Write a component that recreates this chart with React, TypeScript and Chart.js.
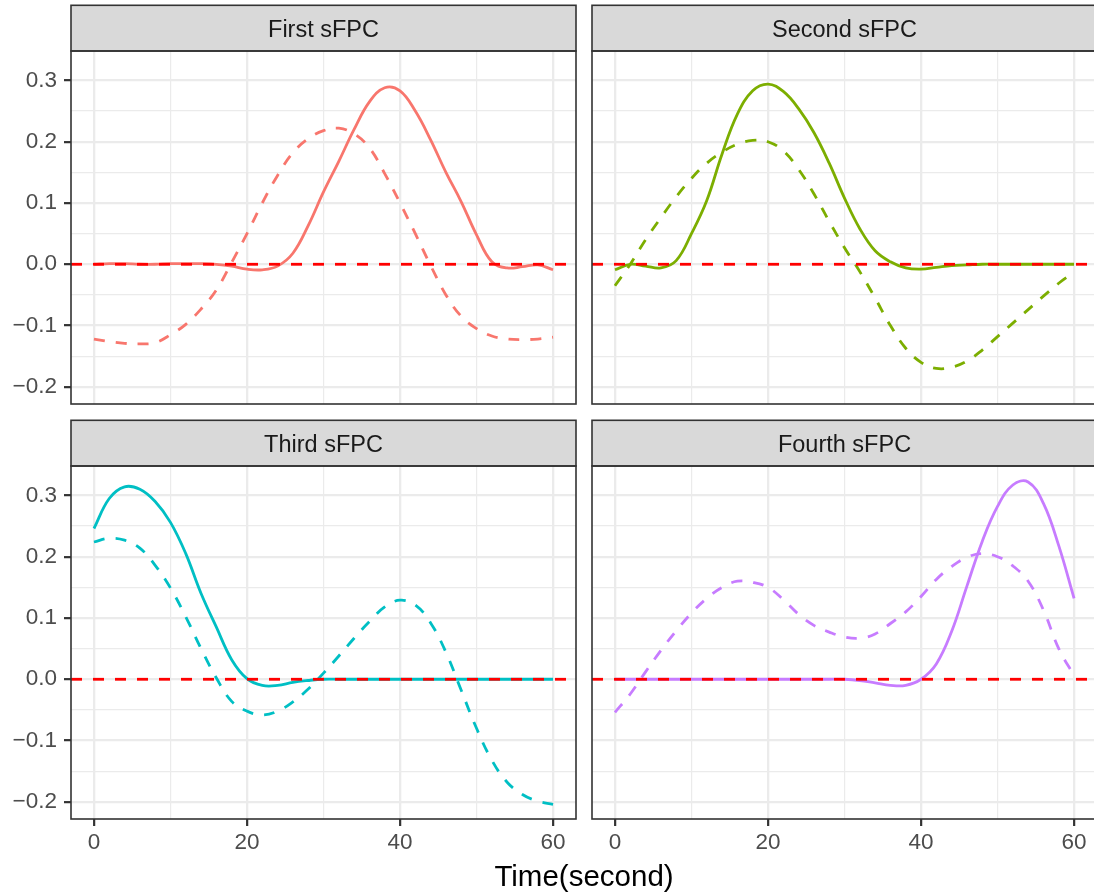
import React, { useEffect, useRef } from "react";
import { Chart, registerables } from "chart.js";

Chart.register(...registerables);

// ---------------- data ----------------
const TIME = [0, 2, 4, 6, 8, 10, 12, 14, 16, 18, 20, 22, 24, 26, 28, 30, 32, 34, 36, 38, 40, 42, 44, 46, 48, 50, 52, 54, 56, 58, 60];

const FIRST_SOLID = [0.0, 0.001, 0.001, 0.0, 0.0, 0.001, 0.001, 0.001, 0.0, -0.003, -0.008, -0.009, -0.003, 0.018, 0.063, 0.118, 0.168, 0.22, 0.265, 0.288, 0.283, 0.25, 0.203, 0.15, 0.102, 0.048, 0.004, -0.006, -0.004, -0.001, -0.009];
const FIRST_DASHED = [-0.122, -0.126, -0.129, -0.13, -0.128, -0.115, -0.098, -0.073, -0.042, 0.003, 0.05, 0.1, 0.145, 0.182, 0.205, 0.218, 0.222, 0.213, 0.19, 0.148, 0.1, 0.05, -0.002, -0.05, -0.085, -0.105, -0.117, -0.122, -0.123, -0.122, -0.119];

const SECOND_SOLID = [-0.009, 0.0, -0.003, -0.006, 0.006, 0.05, 0.104, 0.18, 0.245, 0.283, 0.294, 0.282, 0.254, 0.215, 0.165, 0.108, 0.058, 0.022, 0.004, -0.006, -0.008, -0.005, -0.002, -0.001, 0.0, 0.0, 0.0, 0.0, 0.0, 0.0, 0.0];
const SECOND_DASHED = [-0.035, 0.0, 0.04, 0.076, 0.11, 0.14, 0.165, 0.183, 0.196, 0.202, 0.2, 0.185, 0.155, 0.115, 0.07, 0.027, -0.012, -0.055, -0.1, -0.137, -0.16, -0.17, -0.168, -0.158, -0.14, -0.118, -0.096, -0.074, -0.052, -0.031, -0.013];

const THIRD_SOLID = [0.246, 0.295, 0.314, 0.31, 0.29, 0.256, 0.205, 0.14, 0.085, 0.032, 0.001, -0.01, -0.01, -0.005, -0.002, 0.0, 0.0, 0.0, 0.0, 0.0, 0.0, 0.0, 0.0, 0.0, 0.0, 0.0, 0.0, 0.0, 0.0, 0.0, 0.0];
const THIRD_DASHED = [0.224, 0.23, 0.227, 0.214, 0.186, 0.149, 0.102, 0.05, 0.002, -0.036, -0.052, -0.058, -0.052, -0.037, -0.016, 0.01, 0.038, 0.067, 0.094, 0.118, 0.129, 0.121, 0.092, 0.044, -0.018, -0.08, -0.132, -0.168, -0.188, -0.199, -0.204];

const FOURTH_SOLID = [0.0, 0.0, 0.0, 0.0, 0.0, 0.0, 0.0, 0.0, 0.0, 0.0, 0.0, 0.0, 0.0, 0.0, 0.0, 0.0, -0.002, -0.006, -0.01, -0.01, 0.0, 0.025, 0.078, 0.152, 0.225, 0.282, 0.317, 0.322, 0.287, 0.218, 0.132];
const FOURTH_DASHED = [-0.054, -0.024, 0.012, 0.047, 0.079, 0.108, 0.132, 0.15, 0.16, 0.158, 0.15, 0.13, 0.106, 0.088, 0.077, 0.069, 0.067, 0.074, 0.091, 0.11, 0.135, 0.163, 0.184, 0.199, 0.205, 0.2, 0.185, 0.16, 0.113, 0.05, 0.006];

const PANEL_TITLES = ["First sFPC", "Second sFPC", "Third sFPC", "Fourth sFPC"];
const PANEL_COLORS = ["#F8766D", "#7CAE00", "#00BFC4", "#C77CFF"];
const ZERO_LINE_X = [-3, 63];
const ZERO_LINE_Y = [0, 0];

const X_TICKS = [0, 10, 20, 30, 40, 50, 60];
const X_MAJOR = [0, 20, 40, 60];
const Y_TICKS = [-0.2, -0.15, -0.1, -0.05, 0, 0.05, 0.1, 0.15, 0.2, 0.25, 0.3];
const X_LIMITS = [-3, 63];
const Y_LIMITS = [-0.228, 0.348];
const X_TITLE = "Time(second)";

// ---------------- styling ----------------
const FONT = '"Liberation Sans", Arial, Helvetica, sans-serif';
const GRID = "#EBEBEB";
const DARK = "#333333";
const STRIP_H = 45.7;
const LINE_W = 2.8;

const isMajorX = (v: number) => X_MAJOR.some((m) => Math.abs(m - v) < 1e-9);
const isMajorY = (v: number) => Math.abs(v * 10 - Math.round(v * 10)) < 1e-6;
const fmtY = (v: number) => {
  const s = (Math.abs(v) < 1e-9 ? 0 : v).toFixed(1);
  return s.replace("-", "\u2212");
};

type PanelProps = {
  title: string;
  color: string;
  solid: number[];
  dashed: number[];
  left: number;
  top: number;
  width: number;
  height: number;
  yAxisW: number;
  xAxisH: number;
  padTop: number;
  padRight: number;
  showX: boolean;
  showY: boolean;
};

function Panel(p: PanelProps) {
  const ref = useRef<HTMLCanvasElement | null>(null);

  useEffect(() => {
    if (!ref.current) return;
    const toPts = (ys: number[]) => TIME.map((t, i) => ({ x: t, y: ys[i] }));
    const zero = ZERO_LINE_X.map((x, i) => ({ x, y: ZERO_LINE_Y[i] }));

    const stripPlugin = {
      id: "strip" + p.title.replace(/\s/g, ""),
      afterDraw(chart: any) {
        const { ctx, chartArea: a } = chart;
        ctx.save();
        const st = a.top - STRIP_H;
        ctx.fillStyle = "#D9D9D9";
        ctx.fillRect(a.left, st, a.right - a.left, STRIP_H);
        ctx.strokeStyle = DARK;
        ctx.lineWidth = 1.6;
        ctx.strokeRect(a.left, st, a.right - a.left, STRIP_H);
        ctx.strokeRect(a.left, a.top, a.right - a.left, a.bottom - a.top);
        ctx.fillStyle = "#1A1A1A";
        ctx.font = `23.5px ${FONT}`;
        ctx.textAlign = "center";
        ctx.textBaseline = "alphabetic";
        ctx.fillText(p.title, (a.left + a.right) / 2, st + STRIP_H / 2 + 8.5);
        ctx.restore();
      },
    };

    const chart = new Chart(ref.current, {
      type: "line",
      data: {
        datasets: [
          {
            data: zero,
            borderColor: "#FF0000",
            borderWidth: LINE_W,
            borderDash: [11, 11],
            pointRadius: 0,
            tension: 0,
          },
          {
            data: toPts(p.solid),
            borderColor: p.color,
            borderWidth: LINE_W,
            pointRadius: 0,
            tension: 0.4,
          },
          {
            data: toPts(p.dashed),
            borderColor: p.color,
            borderWidth: LINE_W,
            borderDash: [11, 11],
            pointRadius: 0,
            tension: 0.4,
          },
        ],
      },
      options: {
        responsive: false,
        animation: false,
        events: [],
        layout: { padding: { top: p.padTop, right: p.padRight, left: 0, bottom: 0 } },
        plugins: { legend: { display: false }, tooltip: { enabled: false }, title: { display: false } },
        scales: {
          x: {
            type: "linear",
            min: X_LIMITS[0],
            max: X_LIMITS[1],
            afterBuildTicks: (s: any) => {
              s.ticks = X_TICKS.map((v) => ({ value: v }));
            },
            afterFit: (s: any) => {
              s.height = p.xAxisH;
              s.paddingLeft = 0;
              s.paddingRight = 0;
            },
            border: { display: false },
            grid: {
              color: GRID,
              lineWidth: (c: any) => (isMajorX(c.tick.value) ? 2.3 : 1.2),
              tickColor: (c: any) => (p.showX && isMajorX(c.tick.value) ? DARK : "rgba(0,0,0,0)"),
              tickWidth: 2.2,
              tickLength: 7,
              drawTicks: true,
            },
            ticks: {
              display: p.showX,
              autoSkip: false,
              maxRotation: 0,
              padding: 3,
              color: "#4D4D4D",
              font: { family: FONT, size: 22.5 },
              callback: (v: any) => (isMajorX(Number(v)) ? String(v) : ""),
            },
          },
          y: {
            type: "linear",
            min: Y_LIMITS[0],
            max: Y_LIMITS[1],
            afterBuildTicks: (s: any) => {
              s.ticks = Y_TICKS.map((v) => ({ value: v }));
            },
            afterFit: (s: any) => {
              s.width = p.yAxisW;
              s.paddingTop = 0;
              s.paddingBottom = 0;
            },
            border: { display: false },
            grid: {
              color: GRID,
              lineWidth: (c: any) => (isMajorY(c.tick.value) ? 2.3 : 1.2),
              tickColor: (c: any) => (p.showY && isMajorY(c.tick.value) ? DARK : "rgba(0,0,0,0)"),
              tickWidth: 2.2,
              tickLength: 7,
              drawTicks: true,
            },
            ticks: {
              display: p.showY,
              autoSkip: false,
              padding: 7,
              color: "#4D4D4D",
              font: { family: FONT, size: 22.5 },
              callback: (v: any) => (isMajorY(Number(v)) ? fmtY(Number(v)) : ""),
            },
          },
        },
      } as any,
      plugins: [stripPlugin],
    });
    return () => chart.destroy();
  }, []);

  return (
    <canvas
      ref={ref}
      width={p.width}
      height={p.height}
      style={{ position: "absolute", left: p.left, top: p.top, width: p.width, height: p.height }}
    />
  );
}

export default function App() {
  return (
    <div
      style={{
        position: "absolute",
        left: 0,
        top: 0,
        width: 1094,
        height: 895,
        overflow: "hidden",
        background: "#FFFFFF",
      }}
    >
      <Panel
        title={PANEL_TITLES[0]}
        color={PANEL_COLORS[0]}
        solid={FIRST_SOLID}
        dashed={FIRST_DASHED}
        left={0}
        top={0}
        width={580}
        height={410}
        yAxisW={71}
        xAxisH={6}
        padTop={51}
        padRight={4}
        showX={false}
        showY={true}
      />
      <Panel
        title={PANEL_TITLES[1]}
        color={PANEL_COLORS[1]}
        solid={SECOND_SOLID}
        dashed={SECOND_DASHED}
        left={580}
        top={0}
        width={520}
        height={410}
        yAxisW={12}
        xAxisH={6}
        padTop={51}
        padRight={3}
        showX={false}
        showY={false}
      />
      <Panel
        title={PANEL_TITLES[2]}
        color={PANEL_COLORS[2]}
        solid={THIRD_SOLID}
        dashed={THIRD_DASHED}
        left={0}
        top={410}
        width={580}
        height={485}
        yAxisW={71}
        xAxisH={76}
        padTop={56}
        padRight={4}
        showX={true}
        showY={true}
      />
      <Panel
        title={PANEL_TITLES[3]}
        color={PANEL_COLORS[3]}
        solid={FOURTH_SOLID}
        dashed={FOURTH_DASHED}
        left={580}
        top={410}
        width={520}
        height={485}
        yAxisW={12}
        xAxisH={76}
        padTop={56}
        padRight={3}
        showX={true}
        showY={false}
      />
      <div
        style={{
          position: "absolute",
          left: 384,
          width: 400,
          top: 860.5,
          textAlign: "center",
          fontFamily: FONT,
          fontSize: 29.5,
          lineHeight: "29.5px",
          color: "#000000",
        }}
      >
        {X_TITLE}
      </div>
    </div>
  );
}
